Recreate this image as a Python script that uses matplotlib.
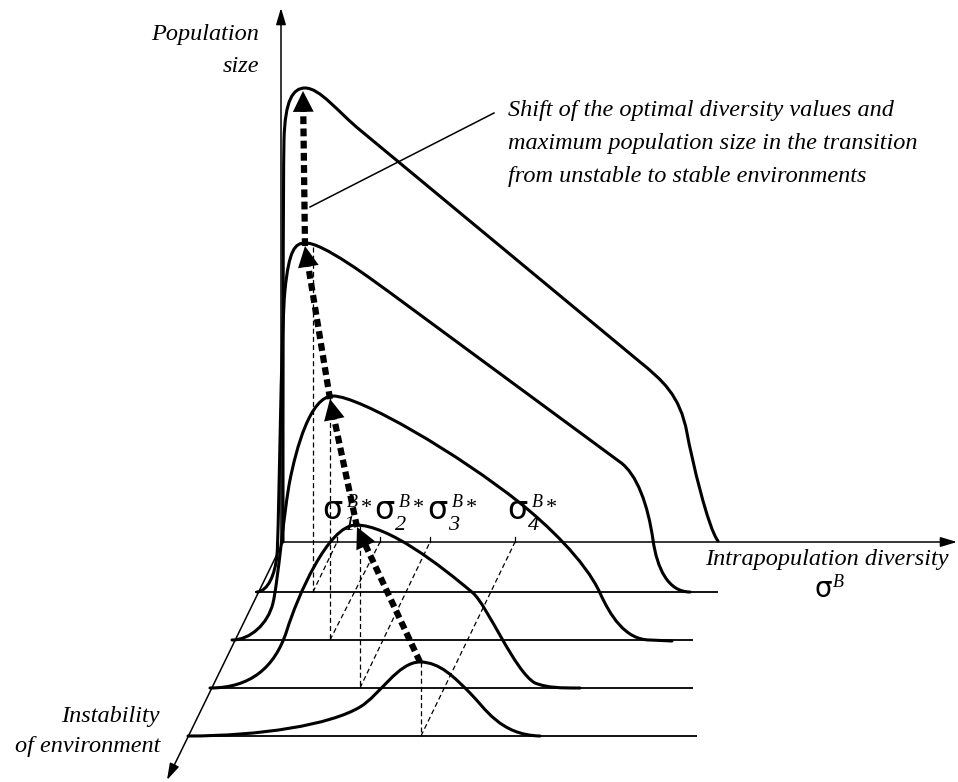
"""Schematic: shift of optimal diversity / population size across environments."""
import matplotlib
matplotlib.use("Agg")
import matplotlib.pyplot as plt
from matplotlib.path import Path
from matplotlib.patches import PathPatch

# ── picture geometry (pixel space, y grows downward) ───────────────────────
W, H = 958, 782

# stacked baselines: back (the diversity axis) to front
BASE_Y = [542, 592, 640, 688, 736]
BASE_X0 = [283, 255, 232, 210, 187]
BASE_X1 = [957, 718, 693, 693, 697]

# curves: start point, then 3-point cubic segments or 1-point straight segments
CURVE_1 = [(283, 542),
           [(283, 400), (283, 190), (284, 140)],
           [(285, 100), (293, 88), (305, 88)],
           [(320, 88), (338, 112), (360, 130)],
           [(640, 362)],
           [(662, 380), (680, 395), (687, 433)],
           [(692, 460), (708, 528), (718, 541)]]
CURVE_2 = [(257, 592),
           [(268, 591), (275, 575), (277, 555)],
           [(279, 530), (281, 330), (285, 290)],
           [(289, 250), (295, 243), (305, 243)],
           [(322, 242), (370, 278), (400, 300)],
           [(620, 462)],
           [(637, 474), (648, 505), (653, 540)],
           [(657, 568), (668, 592), (690, 592)]]
CURVE_3 = [(232, 640),
           [(250, 640), (268, 624), (273, 603)],
           [(278, 582), (284, 510), (290, 480)],
           [(296, 450), (310, 396), (333, 396)],
           [(360, 396), (460, 455), (520, 503)],
           [(545, 523), (585, 560), (600, 593)],
           [(610, 615), (625, 640), (650, 640)],
           [(672, 641)]]
CURVE_4 = [(210, 688),
           [(250, 688), (275, 668), (287, 630)],
           [(297, 598), (328, 525), (356, 525)],
           [(388, 525), (440, 565), (473, 593)],
           [(487, 605), (515, 672), (535, 683)],
           [(548, 688), (560, 688), (580, 688)]]
CURVE_5 = [(188, 736),
           [(260, 736), (330, 725), (360, 707)],
           [(380, 695), (398, 662), (420, 662)],
           [(440, 662), (455, 678), (470, 693)],
           [(485, 708), (500, 735), (540, 736)]]
CURVES = [CURVE_1, CURVE_2, CURVE_3, CURVE_4, CURVE_5]

# optimum path, from most unstable (front) to most stable (back)
OPT_PATH = [(420, 662), (357, 527), (330, 399), (305, 246), (303, 91)]

# projections of the optima down to their baselines and onto the back axis
PROJ_X = [313, 330, 360, 421]
PROJ_TOP = [247, 398, 526, 662]
PROJ_BASE = [592, 640, 688, 736]
SIGMA_X = [337, 380, 430, 515]
SIGMA_LABEL_X = [323, 375, 428, 508]
SIGMA_SUB = ["1", "2", "3", "4"]

SERIF = "Liberation Serif"


def curve_path(pts):
    verts = [pts[0]]
    codes = [Path.MOVETO]
    for seg in pts[1:]:
        verts.extend(seg)
        codes += [Path.LINETO] if len(seg) == 1 else [Path.CURVE4] * 3
    return Path(verts, codes)


def main():
    fig = plt.figure(figsize=(W / 100, H / 100), dpi=100)
    ax = fig.add_axes([0, 0, 1, 1])
    ax.set_xlim(0, W)
    ax.set_ylim(H, 0)
    ax.axis("off")

    # ── axes ───────────────────────────────────────────────────────────────
    axis_arrow = dict(arrowstyle="-|>,head_length=1.0,head_width=0.3",
                      mutation_scale=10, lw=1.1, color="k",
                      shrinkA=0, shrinkB=0)
    ax.annotate("", xy=(957, BASE_Y[0]), xytext=(BASE_X0[0], BASE_Y[0]),
                arrowprops=axis_arrow)
    ax.annotate("", xy=(281, 8), xytext=(281, BASE_Y[0] + 3),
                arrowprops=axis_arrow)
    ax.annotate("", xy=(167, 780), xytext=(BASE_X0[0], BASE_Y[0]),
                arrowprops=axis_arrow)

    for x0, x1, y in zip(BASE_X0[1:], BASE_X1[1:], BASE_Y[1:]):
        ax.plot([x0, x1], [y, y], color="k", lw=1.3, solid_capstyle="butt")

    # ── curves ─────────────────────────────────────────────────────────────
    for c in CURVES:
        ax.add_patch(PathPatch(curve_path(c), fill=False, lw=2.2,
                               edgecolor="k", capstyle="round",
                               joinstyle="round"))

    # ── thin dashed projections ────────────────────────────────────────────
    thin = dict(color="k", lw=0.9, ls=(0, (4, 2.5)))
    for px, top, base, sx in zip(PROJ_X, PROJ_TOP, PROJ_BASE, SIGMA_X):
        ax.plot([px, px], [top, base], **thin)
        ax.plot([px, sx], [base, BASE_Y[0]], **thin)
        ax.plot([sx, sx], [BASE_Y[0], BASE_Y[0] - 5], color="k", lw=0.9)

    # ── thick dashed optimum path with arrowheads ──────────────────────────
    head_len = 21
    for (x0, y0), (x1, y1) in zip(OPT_PATH[:-1], OPT_PATH[1:]):
        dx, dy = x1 - x0, y1 - y0
        d = (dx * dx + dy * dy) ** 0.5
        ex, ey = x1 - dx / d * head_len * 0.6, y1 - dy / d * head_len * 0.6
        ax.plot([x0, ex], [y0, ey], color="k", lw=4.5,
                ls=(0, (1.25, 0.7)), dash_capstyle="butt")
        ax.annotate("", xy=(x1, y1), xytext=(x0, y0),
                    arrowprops=dict(arrowstyle="-|>,head_length=1.0,head_width=0.5",
                                    mutation_scale=15, lw=0, color="k",
                                    shrinkA=0, shrinkB=0))

    # ── leader line and texts ──────────────────────────────────────────────
    ax.plot([310, 494], [207, 113], color="k", lw=1.1)

    it = dict(family=SERIF, style="italic", fontsize=17.5, color="k")
    ax.text(259, 40, "Population", ha="right", va="baseline", **it)
    ax.text(259, 72, "size", ha="right", va="baseline", **it)
    for i, line in enumerate(["Shift of the optimal diversity values and",
                              "maximum population size in the transition",
                              "from unstable to stable environments"]):
        ax.text(508, 116 + 33 * i, line, ha="left", va="baseline", **it)
    ax.text(705, 565, "Intrapopulation diversity", ha="left", va="baseline", **it)
    ax.text(160, 722, "Instability", ha="right", va="baseline", **it)
    ax.text(160, 752, "of environment", ha="right", va="baseline", **it)

    ax.text(815, 597, "σ", family="DejaVu Sans", fontsize=20,
            ha="left", va="baseline")
    ax.text(833, 587, "B", family=SERIF, style="italic", fontsize=13,
            ha="left", va="baseline")

    for lx, sub in zip(SIGMA_LABEL_X, SIGMA_SUB):
        ax.text(lx - 1, 519, "σ", family="DejaVu Sans", fontsize=23,
                ha="left", va="baseline")
        ax.text(lx + 24, 507, "B", family=SERIF, style="italic", fontsize=13,
                ha="left", va="baseline")
        ax.text(lx + 38, 513, "*", family=SERIF, fontsize=16,
                ha="left", va="baseline")
        ax.text(lx + 20, 530, sub, family=SERIF, style="italic", fontsize=16,
                ha="left", va="baseline")

    fig.savefig("out.png", dpi=100)
    plt.close(fig)


if __name__ == "__main__":
    main()
